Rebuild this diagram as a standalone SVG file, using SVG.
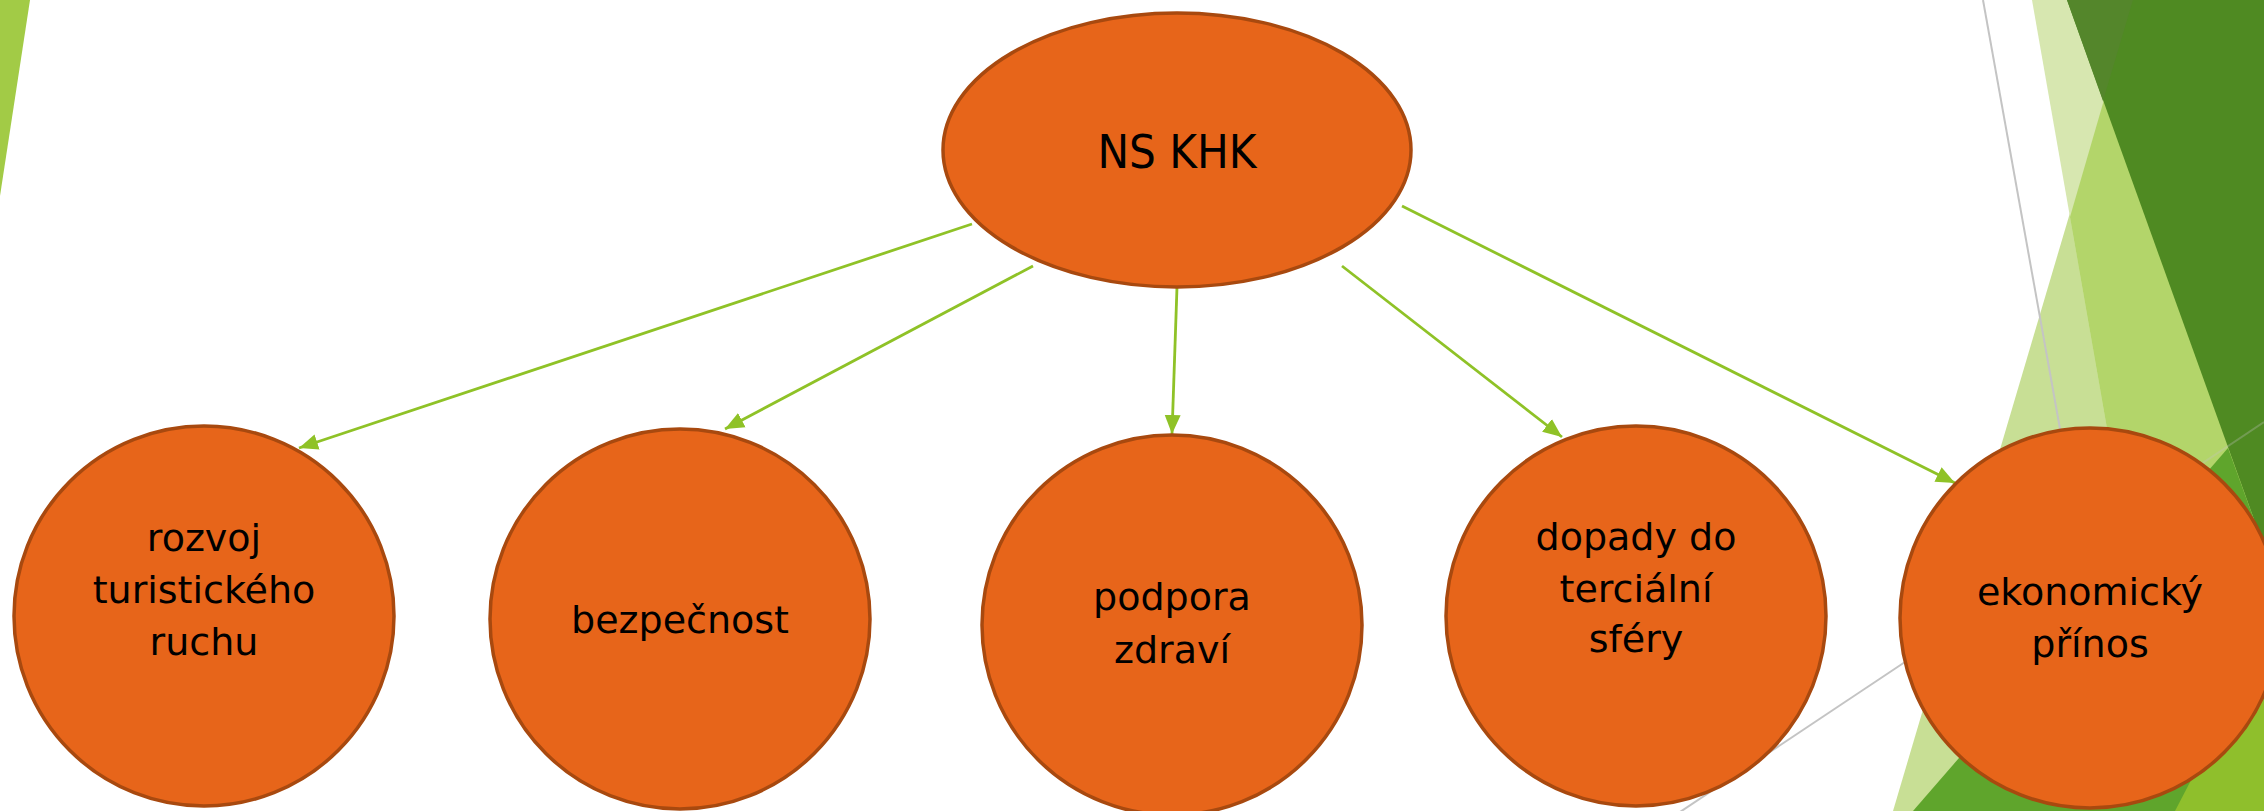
<svg xmlns="http://www.w3.org/2000/svg" width="2264" height="811" viewBox="0 0 2264 811">
<style>
.node{fill:#e7651a;stroke:#a8490f;stroke-width:3.5}
.lbl{font-family:"DejaVu Sans","Verdana",sans-serif;font-size:38px;fill:#000;text-anchor:middle}
.title{font-family:"DejaVu Sans Condensed","DejaVu Sans",sans-serif;font-stretch:condensed;font-size:47px;fill:#000;text-anchor:middle}
.conn{stroke:#8fc227;stroke-width:2.8;fill:none;marker-end:url(#arr)}
.gray{stroke:#c4c4c4;stroke-width:2;fill:none}
</style>
<defs>
<marker id="arr" markerUnits="userSpaceOnUse" markerWidth="20" markerHeight="18" refX="19" refY="8" orient="auto" viewBox="0 0 20 16">
<path d="M0,0 L19,8 L0,16 Z" fill="#8fc227"/>
</marker>
</defs>
<rect width="2264" height="811" fill="#ffffff"/>
<g id="background">
<polygon points="0,0 30,0 0,196" fill="#a2cb46"/>
<polygon points="2133,0 2264,0 2264,811 1893,811" fill="#c8df95"/>
<polygon points="2032,0 2264,0 2264,811 2174,811" fill="#d7e7b0"/>
<polygon points="2070,217 2133,0 2264,0 2264,811 2174,811" fill="#b3d56a"/>
<polygon points="2067,0 2264,0 2264,547" fill="#4f8a22"/>
<polygon points="2067,0 2133,0 2103,101" fill="#54862b"/>
<polygon points="1913,811 2228,448 2264,547 2264,811" fill="#5fa52c"/>
<polygon points="2175,811 2264,640 2264,811" fill="#8fbf2c"/>
<line class="gray" x1="1983" y1="0" x2="2062" y2="440"/>
<line class="gray" x1="1680" y1="812" x2="1920" y2="652"/>
<line class="gray" x1="1920" y1="652" x2="2264" y2="422" stroke-opacity="0.3"/>
</g>
<g id="connectors">
<line class="conn" x1="972" y1="224" x2="299" y2="448"/>
<line class="conn" x1="1033" y1="266" x2="725" y2="429"/>
<line class="conn" x1="1177" y1="287" x2="1172" y2="434"/>
<line class="conn" x1="1342" y1="266" x2="1562" y2="437"/>
<line class="conn" x1="1402" y1="206" x2="1955" y2="483"/>
</g>
<g id="node-ns-khk">
<ellipse class="node" cx="1177" cy="150" rx="234" ry="137"/>
<text class="title" x="1177" y="168">NS KHK</text>
</g>
<g id="node-rozvoj">
<circle class="node" cx="204" cy="616" r="190"/>
<text class="lbl" x="204" y="551">rozvoj</text>
<text class="lbl" x="204" y="603">turistického</text>
<text class="lbl" x="204" y="655">ruchu</text>
</g>
<g id="node-bezpecnost">
<circle class="node" cx="680" cy="619" r="190"/>
<text class="lbl" x="680" y="633">bezpečnost</text>
</g>
<g id="node-podpora">
<circle class="node" cx="1172" cy="625" r="190"/>
<text class="lbl" x="1172" y="610">podpora</text>
<text class="lbl" x="1172" y="663">zdraví</text>
</g>
<g id="node-dopady">
<circle class="node" cx="1636" cy="616" r="190"/>
<text class="lbl" x="1636" y="550">dopady do</text>
<text class="lbl" x="1636" y="602">terciální</text>
<text class="lbl" x="1636" y="652">sféry</text>
</g>
<g id="node-ekonomicky">
<circle class="node" cx="2090" cy="618" r="190"/>
<text class="lbl" x="2090" y="605">ekonomický</text>
<text class="lbl" x="2090" y="657">přínos</text>
</g>
</svg>
